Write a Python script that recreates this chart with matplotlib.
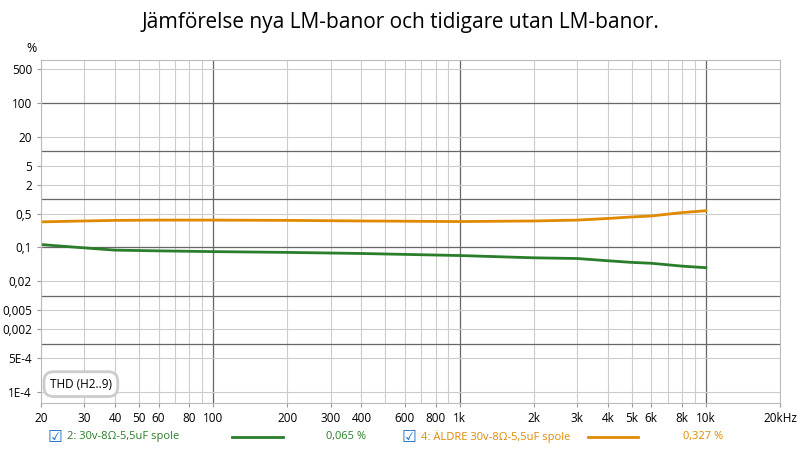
import numpy as np
import matplotlib
matplotlib.use("Agg")
import matplotlib.pyplot as plt

freq = [20, 30, 40, 60, 100, 200, 400, 1000, 2000, 3000, 4000, 5000, 6000, 8000, 10000]
green = [0.115, 0.098, 0.088, 0.085, 0.082, 0.079, 0.075, 0.068, 0.061, 0.059, 0.053, 0.049, 0.047, 0.041, 0.038]
orange = [0.34, 0.355, 0.365, 0.37, 0.37, 0.365, 0.355, 0.345, 0.355, 0.37, 0.40, 0.43, 0.45, 0.53, 0.58]
ytick_vals = [1e-4, 5e-4, 0.002, 0.005, 0.02, 0.1, 0.5, 2, 5, 20, 100, 500]
ytick_labels = ["1E-4", "5E-4", "0,002", "0,005", "0,02", "0,1", "0,5", "2", "5", "20", "100", "500"]
xtick_vals = [20, 30, 40, 50, 60, 80, 100, 200, 300, 400, 600, 800, 1000, 2000, 3000, 4000, 5000, 6000, 8000, 10000, 20000]
xtick_labels = ["20", "30", "40", "50", "60", "80", "100", "200", "300", "400", "600", "800", "1k", "2k", "3k", "4k", "5k", "6k", "8k", "10k", "20kHz"]

plt.rcParams["font.family"] = "Open Sans"
fig = plt.figure(figsize=(8, 4.49), dpi=100)
ax = fig.add_axes([41/800, 1-403/449, (780-41)/800, (403-60)/449])
ax.set_xscale("log"); ax.set_yscale("log")
ax.set_xlim(20, 20000); ax.set_ylim(5.9e-5, 780)

for v in list(range(20, 100, 10)) + list(range(200, 1000, 100)) + list(range(2000, 10000, 1000)) + [20000]:
    ax.axvline(v, color="#cccccc", lw=0.8, zorder=0)
for v in [100, 1000, 10000]:
    ax.axvline(v, color="#666666", lw=0.9, zorder=0)
for v in ytick_vals:
    ax.axhline(v, color="#cccccc", lw=0.8, zorder=0)
for v in [1e-3, 1e-2, 0.1, 1, 10, 100]:
    ax.axhline(v, color="#666666", lw=0.9, zorder=0)

ax.plot(freq, orange, color="#e08a00", lw=2)
ax.plot(freq, green, color="#2a7d2a", lw=2)

ax.set_yticks(ytick_vals); ax.set_yticklabels(ytick_labels)
ax.set_xticks(xtick_vals); ax.set_xticklabels(xtick_labels)
ax.minorticks_off()
ax.tick_params(labelsize=8.5, length=3, color="#999999")
for s in ax.spines.values():
    s.set_color("#bbbbbb")

fig.text(0.5, 0.95, "Jämförelse nya LM-banor och tidigare utan LM-banor.", ha="center", va="center", fontsize=15)
fig.text(26/800, 1-48/449, "%", ha="left", va="center", fontsize=9)
ax.text(0.012, 0.055, "THD (H2..9)", transform=ax.transAxes, fontsize=8.5, va="center",
        bbox=dict(boxstyle="round,pad=0.5,rounding_size=0.8", fc="white", ec="#cccccc", lw=2))

y = 1-437/449
fig.text(48/800, y, "☑", color="#1e6fd0", fontsize=12, va="center", family="DejaVu Sans")
fig.text(67/800, y, "2: 30v-8Ω-5,5uF spole", color="#2a7d2a", fontsize=8, va="center")
fig.add_artist(plt.Line2D([232/800, 283/800], [y, y], color="#2a7d2a", lw=2))
fig.text(326/800, y, "0,065 %", color="#2a7d2a", fontsize=8, va="center")
fig.text(402/800, y, "☑", color="#1e6fd0", fontsize=12, va="center", family="DejaVu Sans")
fig.text(421/800, y, "4: ÄLDRE 30v-8Ω-5,5uF spole", color="#e08a00", fontsize=8, va="center")
fig.add_artist(plt.Line2D([588/800, 638/800], [y, y], color="#e08a00", lw=2))
fig.text(683/800, y, "0,327 %", color="#e08a00", fontsize=8, va="center")

fig.savefig("out.png", dpi=100)
